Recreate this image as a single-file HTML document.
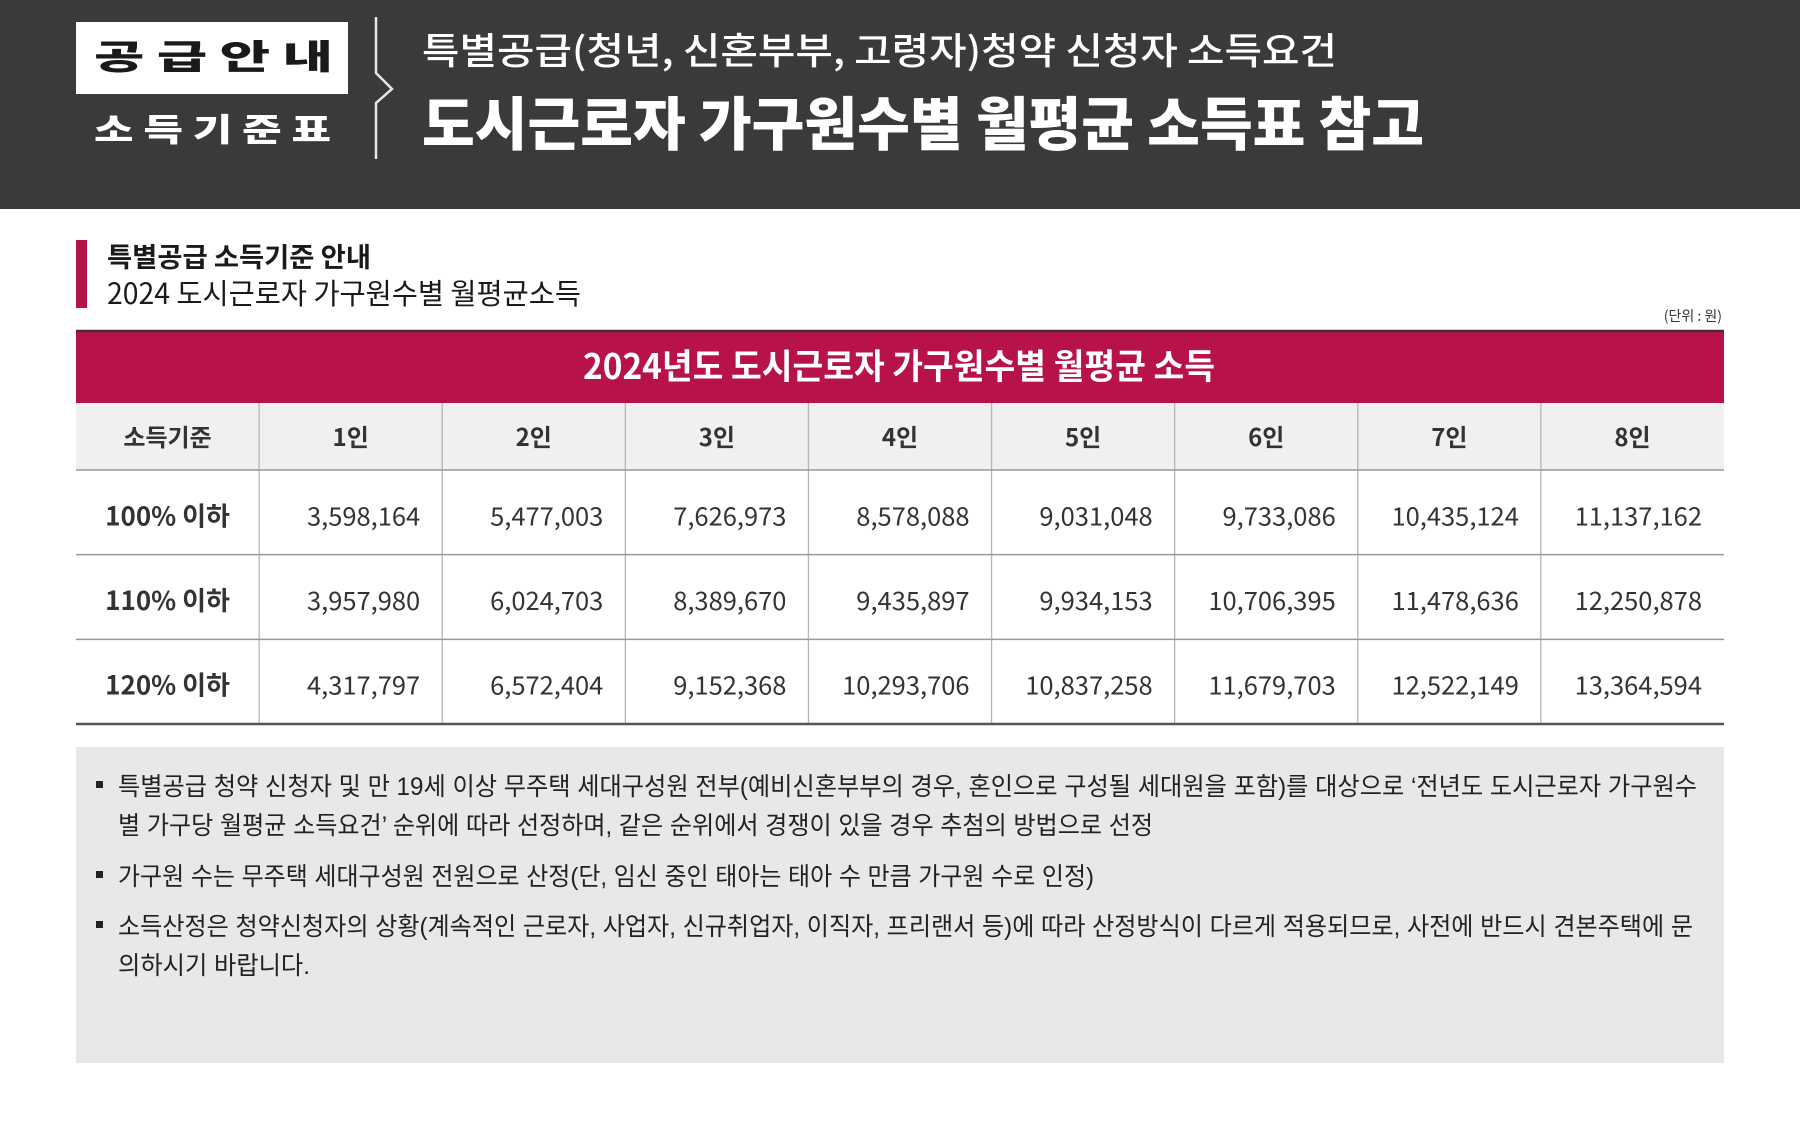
<!DOCTYPE html>
<html><head><meta charset="utf-8"><style>
html,body{margin:0;padding:0;background:#fff}
svg{display:block}
text{font-family:"Liberation Sans","Noto Sans CJK KR",sans-serif}
</style></head><body>
<svg id="s" width="1800" height="1129" viewBox="0 0 1800 1129" xmlns="http://www.w3.org/2000/svg">
<rect x="0" y="0" width="1800" height="209" fill="#3a393b"/>
<rect x="76" y="22" width="272" height="72" fill="#fff"/>
<text x="94" y="69" font-size="34" font-weight="900" fill="#1a1a1a" textLength="239" lengthAdjust="spacingAndGlyphs" style="font-family:'Noto Sans CJK KR',sans-serif">공 급 안 내</text>
<text x="94" y="141" font-size="32" font-weight="900" fill="#fff" textLength="237" lengthAdjust="spacingAndGlyphs" style="font-family:'Noto Sans CJK KR',sans-serif">소 득 기 준 표</text>
<polyline points="376,17 376,73 392,89 376,103 376,159" fill="none" stroke="#e6e6e6" stroke-width="2.5"/>
<text x="422" y="64" font-size="37" font-weight="500" fill="#fff" textLength="915" lengthAdjust="spacingAndGlyphs" style="font-family:'Noto Sans CJK KR',sans-serif">특별공급(청년, 신혼부부, 고령자)청약 신청자 소득요건</text>
<text x="422" y="145" font-size="58" font-weight="900" fill="#fff" textLength="1002" lengthAdjust="spacingAndGlyphs" style="font-family:'Noto Sans CJK KR',sans-serif">도시근로자 가구원수별 월평균 소득표 참고</text>

<rect x="76" y="240" width="11" height="68" fill="#b8124a"/>
<text x="107" y="267" font-size="27" font-weight="700" fill="#1a1a1a" textLength="264" lengthAdjust="spacingAndGlyphs" style="font-family:'Noto Sans CJK KR',sans-serif">특별공급 소득기준 안내</text>
<text x="107" y="304" font-size="29" font-weight="400" fill="#1a1a1a" textLength="474" lengthAdjust="spacingAndGlyphs" style="font-family:'Noto Sans CJK KR',sans-serif">2024 도시근로자 가구원수별 월평균소득</text>
<text x="1722" y="321" font-size="14" fill="#333" text-anchor="end" style="font-family:'Noto Sans CJK KR',sans-serif">(단위 : 원)</text>

<rect x="76" y="331" width="1648" height="72" fill="#b8124a"/>
<line x1="76" y1="331" x2="1724" y2="331" stroke="#4a2a35" stroke-width="2.5"/>
<text x="583" y="379" font-size="35" font-weight="700" fill="#fff" textLength="632" lengthAdjust="spacingAndGlyphs" style="font-family:'Noto Sans CJK KR',sans-serif">2024년도 도시근로자 가구원수별 월평균 소득</text>
<rect x="76" y="403" width="1648" height="67" fill="#f0f0f0"/>
<g id="tbl"></g>

<rect x="76" y="747" width="1648" height="316" fill="#e8e8e8"/>
<g font-size="25" fill="#222" style="font-family:'Noto Sans CJK KR',sans-serif">
<rect x="96" y="781" width="7" height="7" fill="#222"/>
<text x="118" y="795" textLength="1579" lengthAdjust="spacingAndGlyphs">특별공급 청약 신청자 및 만 19세 이상 무주택 세대구성원 전부(예비신혼부부의 경우, 혼인으로 구성될 세대원을 포함)를 대상으로 ‘전년도 도시근로자 가구원수</text>
<text x="118" y="834" textLength="1035" lengthAdjust="spacingAndGlyphs">별 가구당 월평균 소득요건’ 순위에 따라 선정하며, 같은 순위에서 경쟁이 있을 경우 추첨의 방법으로 선정</text>
<rect x="96" y="871" width="7" height="7" fill="#222"/>
<text x="118" y="885" textLength="976" lengthAdjust="spacingAndGlyphs">가구원 수는 무주택 세대구성원 전원으로 산정(단, 임신 중인 태아는 태아 수 만큼 가구원 수로 인정)</text>
<rect x="96" y="921" width="7" height="7" fill="#222"/>
<text x="118" y="935" textLength="1575" lengthAdjust="spacingAndGlyphs">소득산정은 청약신청자의 상황(계속적인 근로자, 사업자, 신규취업자, 이직자, 프리랜서 등)에 따라 산정방식이 다르게 적용되므로, 사전에 반드시 견본주택에 문</text>
<text x="118" y="974" textLength="192" lengthAdjust="spacingAndGlyphs">의하시기 바랍니다.</text>
</g>
</svg>
<script>
const columns = ['소득기준','1인','2인','3인','4인','5인','6인','7인','8인'];
const rowLabels = ['100% 이하','110% 이하','120% 이하'];
const row100 = ['3,598,164','5,477,003','7,626,973','8,578,088','9,031,048','9,733,086','10,435,124','11,137,162'];
const row110 = ['3,957,980','6,024,703','8,389,670','9,435,897','9,934,153','10,706,395','11,478,636','12,250,878'];
const row120 = ['4,317,797','6,572,404','9,152,368','10,293,706','10,837,258','11,679,703','12,522,149','13,364,594'];
const rows=[row100,row110,row120];
const NS='http://www.w3.org/2000/svg';
const g=document.getElementById('tbl');
const X0=76,W=1648,cw=W/columns.length,headTop=403,headBot=470,rowH=84.67;
function mk(tag,attrs){const e=document.createElementNS(NS,tag);for(const k in attrs)e.setAttribute(k,attrs[k]);g.appendChild(e);return e;}
columns.forEach((c,i)=>{
  const t=mk('text',{x:X0+cw*i+cw/2,y:446,'font-size':24,'font-weight':700,fill:'#333','text-anchor':'middle',style:"font-family:'Noto Sans CJK KR',sans-serif"});
  
  
  t.textContent=c;
  if(i>0){const l=mk('line',{x1:X0+cw*i,y1:headTop,x2:X0+cw*i,y2:headBot+rowH*3,stroke:'#b5b5b5','stroke-width':1.3});
    
    }
});
rows.forEach((r,ri)=>{
  const top=headBot+rowH*ri, cy=top+rowH/2+13;
  const lbl=mk('text',{x:X0+cw/2,y:cy,'font-size':26,'font-weight':700,fill:'#333','text-anchor':'middle',style:"font-family:'Noto Sans CJK KR',sans-serif"});
  
  
  lbl.textContent=rowLabels[ri];
  r.forEach((v,ci)=>{
    const t=mk('text',{x:X0+cw*(ci+2)-22,y:cy,'font-size':25.5,fill:'#333','text-anchor':'end',style:"font-family:'Noto Sans CJK KR',sans-serif"});
    
    
    t.textContent=v;
  });
  const l=mk('line',{x1:X0,y1:top,x2:X0+W,y2:top,stroke:'#999','stroke-width':1.5});
  
  
});
const b=mk('line',{x1:X0,y1:headBot+rowH*3,x2:X0+W,y2:headBot+rowH*3,stroke:'#555','stroke-width':2.5});


</script>
</body></html>
